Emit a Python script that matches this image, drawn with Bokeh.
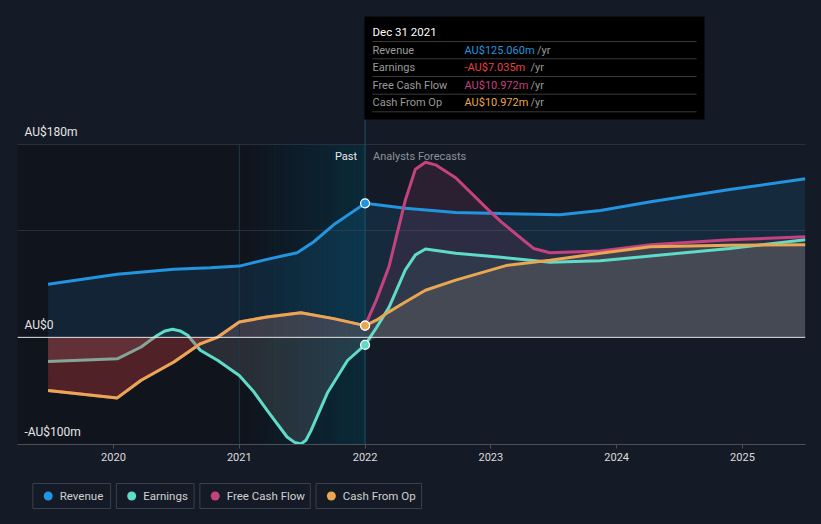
import numpy as np
from bokeh.plotting import figure
from bokeh.models import Range1d, FixedTicker, PrintfTickFormatter, BoxAnnotation
from bokeh.layouts import column
from bokeh.embed import file_html
from bokeh.resources import INLINE
from bokeh.core.properties import value

# ---------------- data (AU$ millions, decimal years) ----------------
rev_x = [2019.48, 2020.03, 2020.48, 2020.77, 2021.00, 2021.22, 2021.46, 2021.59, 2021.75, 2022.00,
         2022.32, 2022.72, 2023.08, 2023.55, 2023.87, 2024.27, 2024.90, 2025.50]
rev_y = [49.5, 58.8, 63.5, 65.0, 66.5, 72.8, 79.0, 89.0, 105.0, 125.06,
         120.6, 116.6, 115.5, 114.5, 118.4, 126.5, 138.0, 148.0]

earn_x = [2019.48, 2020.03, 2020.22, 2020.29, 2020.35, 2020.41, 2020.47, 2020.53, 2020.59, 2020.64,
          2020.69, 2020.83, 2021.00, 2021.11, 2021.22, 2021.38, 2021.44, 2021.49, 2021.53, 2021.57,
          2021.70, 2021.86, 2022.00, 2022.09, 2022.19, 2022.32, 2022.40, 2022.48, 2022.72, 2023.08,
          2023.47, 2023.87, 2024.27, 2024.90, 2025.50]
earn_y = [-22.5, -20.0, -9.0, -3.0, 2.0, 6.0, 7.5, 6.0, 2.0, -5.0,
          -12.0, -21.6, -35.6, -50.0, -68.0, -93.0, -98.0, -99.5, -96.0, -87.0,
          -52.0, -21.6, -7.035, 9.0, 28.0, 63.0, 77.0, 82.5, 78.5, 74.7,
          70.0, 71.5, 76.0, 83.0, 91.0]

cfo_x = [2019.48, 2020.03, 2020.22, 2020.48, 2020.69, 2020.83, 2021.00, 2021.22, 2021.49, 2021.75,
         2022.00, 2022.09, 2022.19, 2022.32, 2022.48, 2022.72, 2023.12, 2023.47, 2023.87, 2024.27,
         2024.90, 2025.50]
cfo_y = [-49.7, -56.5, -40.0, -23.0, -6.0, 0.3, 14.4, 19.0, 23.0, 17.5,
         10.972, 16.0, 23.8, 33.0, 44.0, 53.4, 67.0, 72.0, 78.5, 84.5,
         86.0, 86.5]

fcf_x = [2019.48, 2020.03, 2020.22, 2020.48, 2020.69, 2020.83, 2021.00, 2021.22, 2021.49, 2021.75,
         2022.00, 2022.09, 2022.19, 2022.32, 2022.40, 2022.48, 2022.56, 2022.72, 2022.98, 2023.08,
         2023.24, 2023.34, 2023.47, 2023.87, 2024.27, 2024.90, 2025.50]
fcf_y = [-49.7, -56.5, -40.0, -23.0, -6.0, 0.3, 14.4, 19.0, 23.0, 17.5,
         10.972, 35.0, 66.0, 128.0, 157.0, 163.4, 161.0, 149.0, 119.0, 108.0,
         92.5, 83.0, 79.0, 80.6, 86.5, 91.0, 94.0]

series_names = ["Revenue", "Earnings", "Free Cash Flow", "Cash From Op"]
series_colors = ["#2394df", "#5fdcc8", "#c4427e", "#e8a751"]

now_year = 2022.0
last_year_start = 2021.0
tip_title = "Dec 31 2021"
tip_values = ["AU$125.060m", "-AU$7.035m", "AU$10.972m", "AU$10.972m"]
tip_value_colors = ["#2394df", "#e8413e", "#c4427e", "#e8a751"]

year_ticks = [2020, 2021, 2022, 2023, 2024, 2025]
y_label_vals = [180, 0, -100]
y_label_text = ["AU$180m", "AU$0", "-AU$100m"]
grid_vals = [180, 100]

# ---------------- layout constants ----------------
BG = "#151b26"
FONT = "Roboto"
X0, X1 = 2019.237, 2025.501
Y0, Y1 = -100.0, 314.4
FL, FW, FH = 17, 788, 444


def dx(px):
    return X0 + (px - FL) / FW * (X1 - X0)


def dy(py):
    return Y1 - py / FH * (Y1 - Y0)


p = figure(width=821, height=474, x_range=Range1d(X0, X1), y_range=Range1d(Y0, Y1),
           toolbar_location=None, output_backend="svg", y_axis_location=None,
           min_border_left=FL, min_border_right=16, min_border_top=0, min_border_bottom=30,
           styles={"background-color": BG})
p.background_fill_color = BG
p.border_fill_color = None
p.outline_line_color = None
p.xgrid.visible = False
p.ygrid.ticker = FixedTicker(ticks=grid_vals)
p.ygrid.grid_line_color = "#2a303b"
p.ygrid.grid_line_width = 1

p.xaxis.ticker = FixedTicker(ticks=year_ticks)
p.xaxis.formatter = PrintfTickFormatter(format="%d")
p.xaxis.axis_line_color = "#4a4f58"
p.xaxis.major_tick_line_color = "#4a4f58"
p.xaxis.major_tick_out = 4
p.xaxis.major_tick_in = 0
p.xaxis.minor_tick_line_color = None
p.xaxis.major_label_text_color = "#dcdcdc"
p.xaxis.major_label_text_font = FONT
p.xaxis.major_label_text_font_size = "11px"
p.xaxis.major_label_standoff = 4

# past shading
p.quad(left=[X0], right=[now_year], bottom=[Y0], top=[180], fill_color="#0b0e14",
       fill_alpha=0.5, line_color=None, level="image")
n = 30
edges = np.linspace(last_year_start, now_year, n + 1)
alphas = np.linspace(0.0, 0.36, n)
p.quad(left=edges[:-1], right=edges[1:], bottom=[Y0] * n, top=[180] * n, fill_color="#00516b",
       fill_alpha=alphas, line_color=None, level="image")

rx, ry = np.array(rev_x), np.array(rev_y)
ex, ey = np.array(earn_x), np.array(earn_y)
cx, cy = np.array(cfo_x), np.array(cfo_y)
fx, fy = np.array(fcf_x), np.array(fcf_y)

# fills
p.varea(x=rx, y1=np.zeros_like(ry), y2=ry, fill_color=series_colors[0], fill_alpha=0.125)
p.varea(x=ex, y1=np.zeros_like(ey), y2=np.maximum(ey, 0), fill_color=series_colors[1], fill_alpha=0.07)
p.varea(x=ex, y1=np.zeros_like(ey), y2=np.minimum(ey, 0), fill_color="#ffffff", fill_alpha=0.11)
p.varea(x=fx, y1=np.zeros_like(fy), y2=np.maximum(fy, 0), fill_color=series_colors[2], fill_alpha=0.13)
p.varea(x=cx, y1=np.zeros_like(cy), y2=np.maximum(cy, 0), fill_color="#cfc48a", fill_alpha=0.13)

# vertical markers
p.segment(x0=[last_year_start], y0=[Y0], x1=[last_year_start], y1=[180], line_color="#1b3b48", line_width=1)
p.segment(x0=[now_year], y0=[Y0], x1=[now_year], y1=[dy(119)], line_color="#1d5468", line_width=1)

# lines
p.line(rx, ry, line_color=series_colors[0], line_width=3)
p.line(ex, ey, line_color=series_colors[1], line_width=3)
# negative FCF fill drawn over the earnings line
p.varea(x=fx, y1=np.zeros_like(fy), y2=np.minimum(fy, 0), fill_color="#d03a3f", fill_alpha=0.34)
p.line(fx, fy, line_color=series_colors[2], line_width=3)
p.line(cx, cy, line_color=series_colors[3], line_width=3)

# zero line
p.segment(x0=[X0], y0=[0], x1=[X1], y1=[0], line_color="#e6e6e6", line_width=1)

# markers at now
mk_y = [rev_y[rev_x.index(now_year)], earn_y[earn_x.index(now_year)],
        fcf_y[fcf_x.index(now_year)], cfo_y[cfo_x.index(now_year)]]
p.scatter(x=[now_year] * 4, y=mk_y, size=9, fill_color=series_colors, line_color="#ffffff", line_width=1.2)

# y labels
p.text(x=[X0] * 3, y=y_label_vals, text=y_label_text, x_offset=7, y_offset=-12.5,
       text_baseline="middle", text_align="left", text_color="#e6e6e6",
       text_font=value(FONT), text_font_size="12px")

# past / forecast labels
p.text(x=[now_year], y=[dy(156)], text=["Past"], x_offset=-8, text_align="right", text_baseline="middle",
       text_color="#e8e8e8", text_font=value(FONT), text_font_size="11px")
p.text(x=[now_year], y=[dy(156)], text=["Analysts Forecasts"], x_offset=8, text_align="left",
       text_baseline="middle", text_color="#8c929b", text_font=value(FONT), text_font_size="11px")

# tooltip
p.add_layout(BoxAnnotation(left=dx(364), right=dx(704), bottom=dy(119), top=dy(16),
                           fill_color="#000000", fill_alpha=1.0, line_color=None))
sep_py = [41, 58.3, 76, 93.7, 111.3]
p.segment(x0=[dx(372)] * 5, x1=[dx(696)] * 5, y0=[dy(v) for v in sep_py], y1=[dy(v) for v in sep_py],
          line_color="#3a3a3a", line_width=1, level="overlay")
p.text(x=[dx(372)], y=[dy(31)], text=[tip_title], text_baseline="middle", text_color="#ffffff",
       text_font=value(FONT), text_font_size="11.5px", level="overlay")
row_py = [49.5, 67, 84.5, 102]
p.text(x=[dx(372)] * 4, y=[dy(v) for v in row_py], text=series_names, text_baseline="middle",
       text_color="#9a9a9a", text_font=value(FONT), text_font_size="11px", level="overlay")
p.text(x=[dx(464)] * 4, y=[dy(v) for v in row_py], text=tip_values, text_baseline="middle",
       text_color=tip_value_colors, text_font=value(FONT), text_font_size="11px", level="overlay")
yr_px = [464 + 6.5 * len(t) + 1 for t in tip_values]
p.text(x=[dx(v) for v in yr_px], y=[dy(v) for v in row_py], text=["/yr"] * 4, text_baseline="middle",
       text_color="#9a9a9a", text_font=value(FONT), text_font_size="11px", level="overlay")

# ---------------- legend strip ----------------
lf = figure(width=821, height=50, x_range=Range1d(0, 821), y_range=Range1d(50, 0),
            toolbar_location=None, output_backend="svg", min_border=0,
            x_axis_location=None, y_axis_location=None, styles={"background-color": BG})
lf.background_fill_color = BG
lf.border_fill_color = None
lf.outline_line_color = None
lf.grid.visible = False
box_w = [81, 81, 115, 110]
lefts = []
cur = 16
for w in box_w:
    lefts.append(cur)
    cur += w + 6
rights = [l + w for l, w in zip(lefts, box_w)]
lf.quad(left=lefts, right=rights, top=[9] * 4, bottom=[34] * 4, fill_alpha=0,
        line_color="#3a404a", line_width=1)
lf.scatter(x=[l + 16 for l in lefts], y=[21.5] * 4, size=9, fill_color=series_colors, line_color=None)
lf.text(x=[l + 28 for l in lefts], y=[21.5] * 4, text=series_names, text_baseline="middle",
        text_color="#d0d0d0", text_font=value(FONT), text_font_size="11.5px")

layout = column(p, lf, spacing=0, styles={"background-color": BG})
open("out.html", "w").write(file_html(layout, INLINE))
